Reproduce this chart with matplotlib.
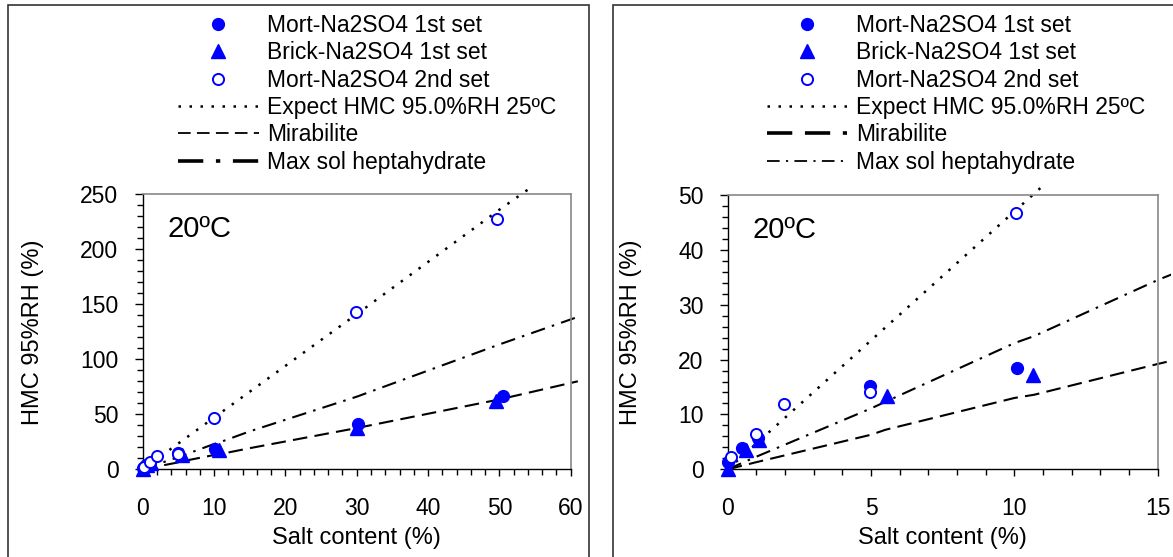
import matplotlib
matplotlib.use("Agg")
import matplotlib.pyplot as plt
from matplotlib.ticker import MultipleLocator
from matplotlib.patches import Rectangle

plt.rcParams['font.family'] = ['Liberation Sans', 'DejaVu Sans']

# measured points (salt content %, HMC %)
mort1_x = [0, 0.5, 1.05, 4.95, 10.1, 30.2, 50.5]
mort1_y = [1.3, 3.8, 5.7, 15.2, 18.4, 41.5, 66.5]
brick1_x = [0, 0.65, 1.1, 5.55, 10.65, 30.1, 49.5]
brick1_y = [0, 3.5, 5.3, 13.3, 17.2, 37.5, 62]
mort2_x = [0.13, 0.97, 1.95, 4.95, 10.05, 29.9, 49.7]
mort2_y = [2.2, 6.5, 11.9, 14.0, 46.8, 143, 227.5]

# reference curves
expect_x = [0, 2, 5, 10, 30, 50, 54.6]
expect_y = [0, 9.4, 23.5, 47, 141, 236, 257]
mirab_x = [0, 1, 5, 5.5, 10, 10.7, 15, 30, 50, 61]
mirab_y = [0, 1.3, 6.3, 7.2, 13.0, 13.6, 19.2, 37.5, 63.5, 80]
hepta_x = [0, 1, 2, 5, 5.5, 10, 10.7, 15, 30, 50, 61.2]
hepta_y = [0, 2.3, 4.5, 11.1, 12.3, 23.0, 24.3, 34.5, 66, 113.5, 139]

labels = ["Mort-Na2SO4 1st set", "Brick-Na2SO4 1st set", "Mort-Na2SO4 2nd set",
          "Expect HMC 95.0%RH 25ºC", "Mirabilite", "Max sol heptahydrate"]

W, H = 1173, 557
fig = plt.figure(figsize=(W / 100, H / 100), dpi=100)
FS = 16.5

# panel settings: axes rect (px), limits, ticks, legend anchor (px), legend lw for mirab/hepta
panels = [
    dict(rect=(142.7, 194.3, 570.7, 469.3), xlim=60, ylim=250, xmaj=10, xmin=2, ymaj=50, ymin=10,
         leg=(178.3, 14), lw_m=1.3, lw_h=2.6, frame=(8.3, 589.3)),
    dict(rect=(727.7, 195.0, 1157.7, 469.3), xlim=15, ylim=50, xmaj=5, xmin=1, ymaj=10, ymin=2,
         leg=(766.7, 14), lw_m=2.6, lw_h=1.3, frame=(612.7, 1180)),
]

blue = '#0000ff'
for p in panels:
    x0, y0, x1, y1 = p['rect']
    ax = fig.add_axes([x0 / W, 1 - y1 / H, (x1 - x0) / W, (y1 - y0) / H])

    fl, fr = p['frame']
    fig.add_artist(Rectangle((fl / W, -0.1), (fr - fl) / W, 1.1 - 5 / H, transform=fig.transFigure,
                             fill=False, ec='#333333', lw=1.2))

    clip = Rectangle((0, 0), 1.03, 1.035, transform=ax.transAxes)
    l1, = ax.plot(expect_x, expect_y, color='k', lw=1.8, ls=(0, (1.0, 3.4)))
    l2, = ax.plot(mirab_x, mirab_y, color='k', lw=1.5, ls=(0, (7, 3.5)))
    l3, = ax.plot(hepta_x, hepta_y, color='k', lw=1.5, ls=(0, (7, 3.5, 1.2, 3.5)))
    for ln in (l1, l2, l3):
        ln.set_clip_path(clip)

    m1, = ax.plot(mort1_x, mort1_y, 'o', color=blue, ms=8.5, clip_on=False, zorder=4)
    m2, = ax.plot(brick1_x, brick1_y, '^', color=blue, ms=9.5, clip_on=False, zorder=4)
    m3, = ax.plot(mort2_x, mort2_y, 'o', mfc='white', mec=blue, mew=1.4, ms=8, clip_on=False, zorder=4)

    ax.set_xlim(0, p['xlim'])
    ax.set_ylim(0, p['ylim'])
    ax.xaxis.set_major_locator(MultipleLocator(p['xmaj']))
    ax.xaxis.set_minor_locator(MultipleLocator(p['xmin']))
    ax.yaxis.set_major_locator(MultipleLocator(p['ymaj']))
    ax.yaxis.set_minor_locator(MultipleLocator(p['ymin']))
    ax.tick_params(axis='x', which='major', direction='out', length=5, width=1, labelsize=FS, pad=15)
    ax.tick_params(axis='x', which='minor', direction='out', length=4.5, width=1)
    ax.tick_params(axis='y', which='major', direction='out', length=6, width=1, labelsize=FS, pad=11.5)
    ax.tick_params(axis='y', which='minor', direction='out', length=4, width=1)
    for s in ('top', 'right'):
        ax.spines[s].set_color('#888888')
        ax.spines[s].set_linewidth(1.2)
    for s in ('left', 'bottom'):
        ax.spines[s].set_color('black')
        ax.spines[s].set_linewidth(1.0)

    ax.set_xlabel("Salt content (%)", fontsize=FS + 0.5, labelpad=5)
    ax.set_ylabel("HMC 95%RH (%)", fontsize=FS + 0.5, labelpad=26)
    ax.text(0.058, 0.874, "20ºC", transform=ax.transAxes, fontsize=21, va='center')

    lx, ly = p['leg']
    leg = ax.legend([m1, m2, m3, l1, l2, l3], labels, loc='upper left',
                    bbox_to_anchor=(lx / W, 1 - ly / H), bbox_transform=fig.transFigure,
                    frameon=False, borderpad=0, borderaxespad=0, handlelength=3.5,
                    handletextpad=0.39, labelspacing=0.19, fontsize=FS, numpoints=1)
    hs = leg.legend_handles
    hs[4].set_linewidth(p['lw_m'])
    hs[5].set_linewidth(p['lw_h'])

fig.savefig("out.png", dpi=100)
